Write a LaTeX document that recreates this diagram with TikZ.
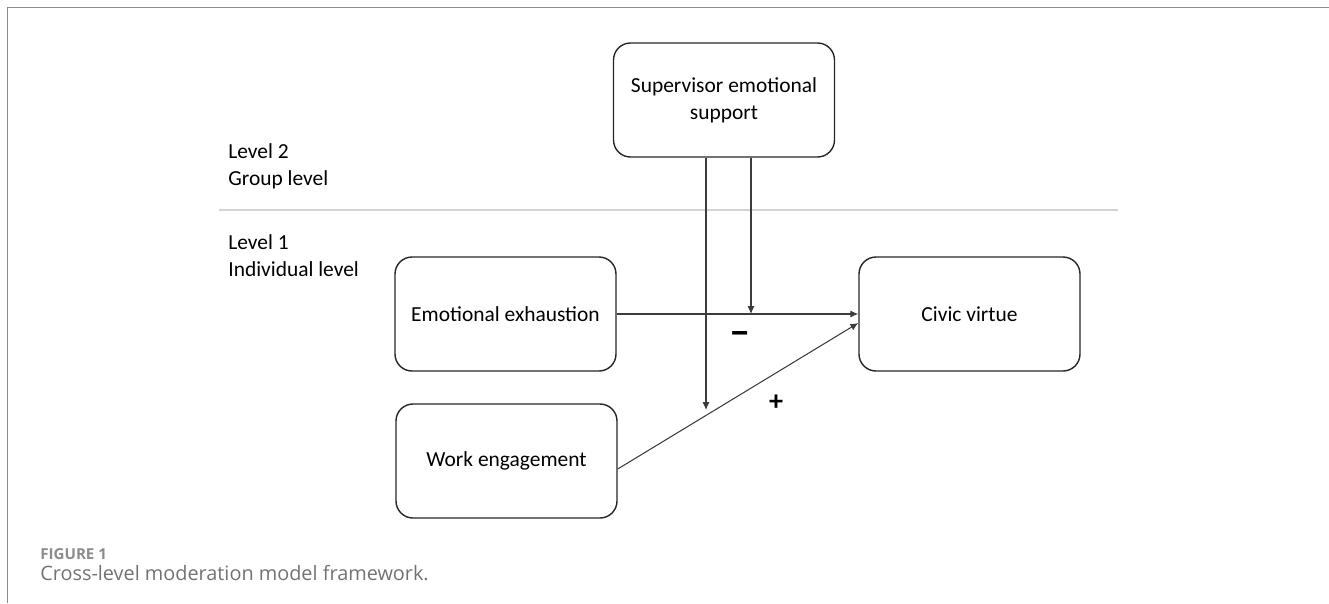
\documentclass[tikz,border=0pt]{standalone}
\usepackage{fontspec}
\setmainfont{Carlito}
\newfontfamily\captionfont{Open Sans}
\usetikzlibrary{calc,arrows.meta}
\definecolor{framegray}{HTML}{8C8C8C}
\definecolor{rulegray}{HTML}{D4D4D4}
\definecolor{linegray}{HTML}{3C3C3C}
\definecolor{capgray}{HTML}{727272}
\tikzset{
  construct/.style={draw=black!85,line width=0.8pt,rounded corners=0.34cm,minimum width=4.42cm,minimum height=2.28cm,align=center,font=\fontsize{12.2}{15.4}\selectfont},
  levelnote/.style={anchor=north west,align=left,inner sep=0pt,font=\fontsize{12.2}{15.4}\selectfont},
  sign/.style={font=\fontsize{16}{16}\selectfont\bfseries},
  effect/.style={linegray,line width=0.6pt,-{Latex[length=4.5pt,width=4pt]}}
}

\begin{document}
\begin{tikzpicture}
      \useasboundingbox (0,0) rectangle (26.58,-12.06);
      \draw[framegray,line width=1.1pt] (26.58,-0.15) -- (0.15,-0.15) -- (0.15,-12.06);

      \node[construct] (support) at (14.48,-2.0) {Supervisor emotional\\support};
      \node[construct] (exhaustion) at (10.11,-6.28) {Emotional exhaustion};
      \node[construct] (engagement) at (10.13,-9.22) {Work engagement};
      \node[construct] (virtue) at (19.39,-6.28) {Civic virtue};

      \draw[rulegray,line width=0.6pt] (4.38,-4.2) -- (22.36,-4.2);
      \node[levelnote] (level2) at (4.56,-2.86) {Level 2\\Group level};
      \node[levelnote] (level1) at (4.56,-4.68) {Level 1\\Individual level};

      \coordinate (moddown) at (14.12,-8.2);
      \coordinate (modpath) at (15.02,-6.28);
      \draw[effect] (exhaustion.east) -- (virtue.west);
      \draw[effect] ($ (engagement.east) + (0,-0.16) $) -- ($ (virtue.west) + (0,-0.18) $);
      \draw[effect] (support.south -| moddown) -- (moddown);
      \draw[effect] (support.south -| modpath) -- (modpath);

      \node[sign,font=\fontsize{22}{22}\selectfont\bfseries] (minus) at (14.8,-6.76) {−};
      \node[sign] (plus) at (15.52,-8.06) {+};

      \node[anchor=base west,inner sep=0pt,text=framegray,font=\captionfont\fontsize{8.6}{10}\selectfont\bfseries] (fig) at (0.8,-11.18) {FIGURE 1};
      \node[anchor=base west,inner sep=0pt,text=capgray,font=\captionfont\fontsize{11.3}{12}\selectfont] (caption) at (0.8,-11.6) {Cross-level moderation model framework.};
    \end{tikzpicture}
\end{document}
